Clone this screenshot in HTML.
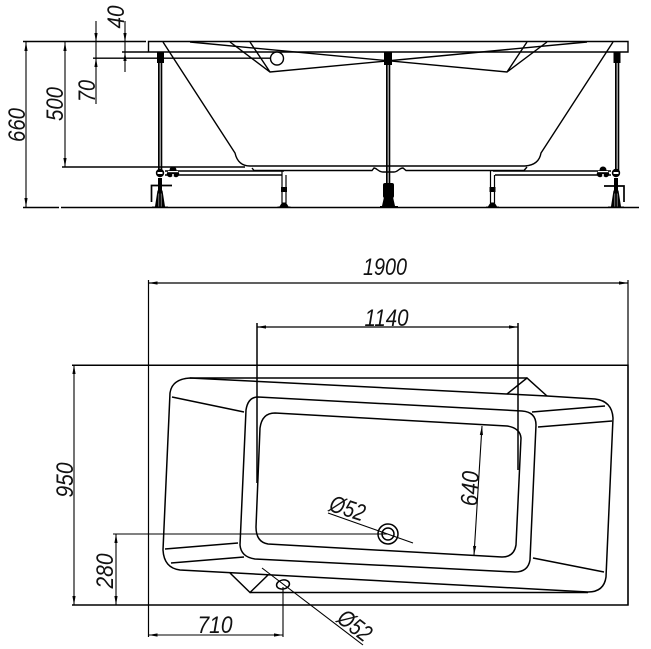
<!DOCTYPE html>
<html><head><meta charset="utf-8">
<style>html,body{margin:0;padding:0;background:#fff}svg{display:block}
text{font-family:"Liberation Sans",sans-serif;font-style:italic;font-size:24px;fill:#111;text-anchor:middle}</style></head>
<body>
<svg width="651" height="649" viewBox="0 0 651 649" xmlns="http://www.w3.org/2000/svg">
<defs>
<g id="a"><path d="M0 0L-1.6 9L1.6 9Z" fill="#000" stroke="none"/></g>
<g id="foot"><path d="M-2.5 0H2.5L5 16H8V17H-8V16H-5Z" fill="#000" stroke="none"/><path d="M-1.2 3V16M1.2 3V16" stroke="#bbb" stroke-width=".6" fill="none"/></g>
<g id="sfoot"><path d="M-2 0H2L4.500 4H6.500V5H-6.500V4H-4.500Z" fill="#000" stroke="none"/></g>
<g id="nut"><circle cx="0" cy="-1" r="3.500" fill="#000"/><circle cx="-3" cy="3" r="3.200" fill="#000"/><circle cx="3" cy="3" r="3.200" fill="#000"/><circle cx="0" cy="4" r="1" fill="#fff"/><rect x="-5" y="0" width="10" height="1.200" fill="#fff"/></g>
</defs>

<!-- SIDE VIEW -->
<g fill="none" stroke="#000" stroke-width="1.400">
<path d="M23 41.500H146M148.500 41.500H628V52H148.500Z"/>
<path d="M23 207.500H59M61 207.500H639" stroke-width="1.500"/>
<path d="M122 52H148"/>
<path d="M93 58.200H271"/>
<path d="M62 167H245"/>
<path d="M26 42V207M65 42V167M96 21V104M125 21V72" stroke-width="1.100"/>
<path d="M163 42L235 153Q238 166 250 166H525Q539 165 541 153L613 42"/>
<path d="M252 168L254 170.500H372L374 168C377 168 378 172 383 172H394C398 172 399 168 403 168L406 170.500H524L527 167"/>
<path d="M190 42L507 72L527 42M507 72L547 42"/>
<path d="M587 42L270 72L230 42M270 72L250 42"/>
<circle cx="277" cy="58.500" r="6.500" fill="#fff"/>
<!-- rails -->
<path d="M165 171H284M165 175H282"/>
<path d="M611 171H493M611 175H495"/>
<path d="M282 171V203M286 175V203" stroke-width="1.200"/>
<path d="M490.500 171V203M494.500 175V203" stroke-width="1.200"/>
<!-- brackets -->
<path d="M151.500 202V185.500H172" stroke-width="1.700"/>
<path d="M624 202V186H604" stroke-width="1.700"/>
</g>
<!-- legs -->
<g stroke="none" fill="#000">
<rect x="158" y="62" width="1.700" height="110"/><rect x="160.600" y="62" width="1.700" height="110"/><rect x="157" y="52" width="7" height="11"/>
<rect x="386" y="60" width="1.700" height="124"/><rect x="388.600" y="60" width="1.700" height="124"/><rect x="384" y="52" width="8" height="13"/>
<rect x="615" y="62" width="1.700" height="110"/><rect x="617.600" y="62" width="1.700" height="110"/><rect x="613.500" y="52" width="7" height="11"/>
<rect x="383" y="183" width="11" height="15" rx="2"/>
<path d="M384 197H393L395 206H398V208H380V206H382Z"/>
<rect x="281" y="187" width="6" height="5"/><rect x="489.500" y="187" width="6" height="5"/>
<circle cx="160" cy="173" r="4.200"/><circle cx="616" cy="173" r="4.200"/>
<rect x="157.500" y="172" width="5" height="2" fill="#fff"/><rect x="613.500" y="172" width="5" height="2" fill="#fff"/>
<rect x="158" y="178" width="4" height="13"/><rect x="614" y="178" width="4" height="13"/>
</g>
<use href="#foot" x="160" y="190.500"/><use href="#foot" x="616" y="190.500"/>
<use href="#sfoot" x="284" y="202.500"/><use href="#sfoot" x="492.500" y="202.500"/>
<use href="#nut" x="173" y="171"/><use href="#nut" x="603" y="171"/>
<!-- side arrows -->
<use href="#a" transform="translate(26 42)"/><use href="#a" transform="translate(26 207) rotate(180)"/>
<use href="#a" transform="translate(65 42)"/><use href="#a" transform="translate(65 167) rotate(180)"/>
<use href="#a" transform="translate(96 42) rotate(180)"/><use href="#a" transform="translate(96 58)"/>
<use href="#a" transform="translate(125 42) rotate(180)"/><use href="#a" transform="translate(125 52)"/>
<text textLength="23" lengthAdjust="spacingAndGlyphs" transform="translate(124 17) rotate(-90)">40</text>
<text textLength="22" lengthAdjust="spacingAndGlyphs" transform="translate(95 91) rotate(-90)">70</text>
<text textLength="34" lengthAdjust="spacingAndGlyphs" transform="translate(63 104) rotate(-90)">500</text>
<text textLength="34" lengthAdjust="spacingAndGlyphs" transform="translate(25 125) rotate(-90)">660</text>

<!-- TOP VIEW -->
<g fill="none" stroke="#000" stroke-width="1.500">
<path d="M72 365.300H628V605H72"/>
<path d="M148.500 280V637M628 280V605" stroke-width="1.200"/>
<path d="M148.500 283H628" stroke-width="1.200"/>
<path d="M257 323V483M518 323V470" stroke-width="1.500"/>
<path d="M257 327H518" stroke-width="1.200"/>
<path d="M74 365V605" stroke-width="1.100"/>
<path d="M116 534V605" stroke-width="1.100"/>
<path d="M113 534H388" stroke-width="1.100"/>
<path d="M148.500 635H283M283 587V637" stroke-width="1.100"/>
<!-- outer -->
<path d="M190 378L547 396L595 399Q612 401 613 418L606 577Q604 592 588 592L180 570Q164 568 163 550L170 393Q172 379 190 378Z"/>
<path d="M190 378H527M250 592.500H588"/>
<path d="M507 394L527 378L547 396M230 573L250 592.500L268 575"/>
<!-- middle -->
<path d="M258 397L522 411Q536 412 536 425L530 560Q528 572 515 572L255 559Q241 557 240 545L246 410Q248 397 258 397Z"/>
<!-- inner -->
<path d="M275 413L507 426Q520 428 521 438L516 545Q514 557 502 557L268 544Q256 542 256 527L260 428Q262 413 275 413Z"/>
<!-- facets -->
<path d="M172 397L244 412M165 549L238 543M171 563L244 557M532 412L605 406M538 427L612 421M533 558L604 572"/>
<!-- leaders -->
<path d="M328 513L413 543M262 568L363 645M474 555L482 426" stroke-width="1.100"/>
<circle cx="388" cy="534" r="10"/><circle cx="388" cy="534" r="6"/>
<ellipse cx="283" cy="584.500" rx="6.500" ry="4.500" transform="rotate(-10 283 584.500)"/>
</g>
<!-- top arrows -->
<use href="#a" transform="translate(148.500 283) rotate(-90)"/><use href="#a" transform="translate(628 283) rotate(90)"/>
<use href="#a" transform="translate(257 327) rotate(-90)"/><use href="#a" transform="translate(518 327) rotate(90)"/>
<use href="#a" transform="translate(74 365)"/><use href="#a" transform="translate(74 605) rotate(180)"/>
<use href="#a" transform="translate(116 534)"/><use href="#a" transform="translate(116 605) rotate(180)"/>
<use href="#a" transform="translate(148.500 635) rotate(-90)"/><use href="#a" transform="translate(283 635) rotate(90)"/>
<use href="#a" transform="translate(482 426) rotate(4)"/><use href="#a" transform="translate(474 555) rotate(184)"/>
<text x="385" y="275" textLength="44" lengthAdjust="spacingAndGlyphs">1900</text>
<text x="386.500" y="326" textLength="44" lengthAdjust="spacingAndGlyphs">1140</text>
<text x="215" y="633" textLength="35" lengthAdjust="spacingAndGlyphs">710</text>
<text textLength="35" lengthAdjust="spacingAndGlyphs" transform="translate(73 480) rotate(-90)">950</text>
<text textLength="35" lengthAdjust="spacingAndGlyphs" transform="translate(113 571) rotate(-90)">280</text>
<text textLength="35" lengthAdjust="spacingAndGlyphs" transform="translate(478 489) rotate(-87)">640</text>
<text textLength="36" lengthAdjust="spacingAndGlyphs" transform="translate(345 516) rotate(18)">Ø52</text>
<text textLength="36" lengthAdjust="spacingAndGlyphs" transform="translate(350 632) rotate(37)">Ø52</text>
</svg>
</body></html>
